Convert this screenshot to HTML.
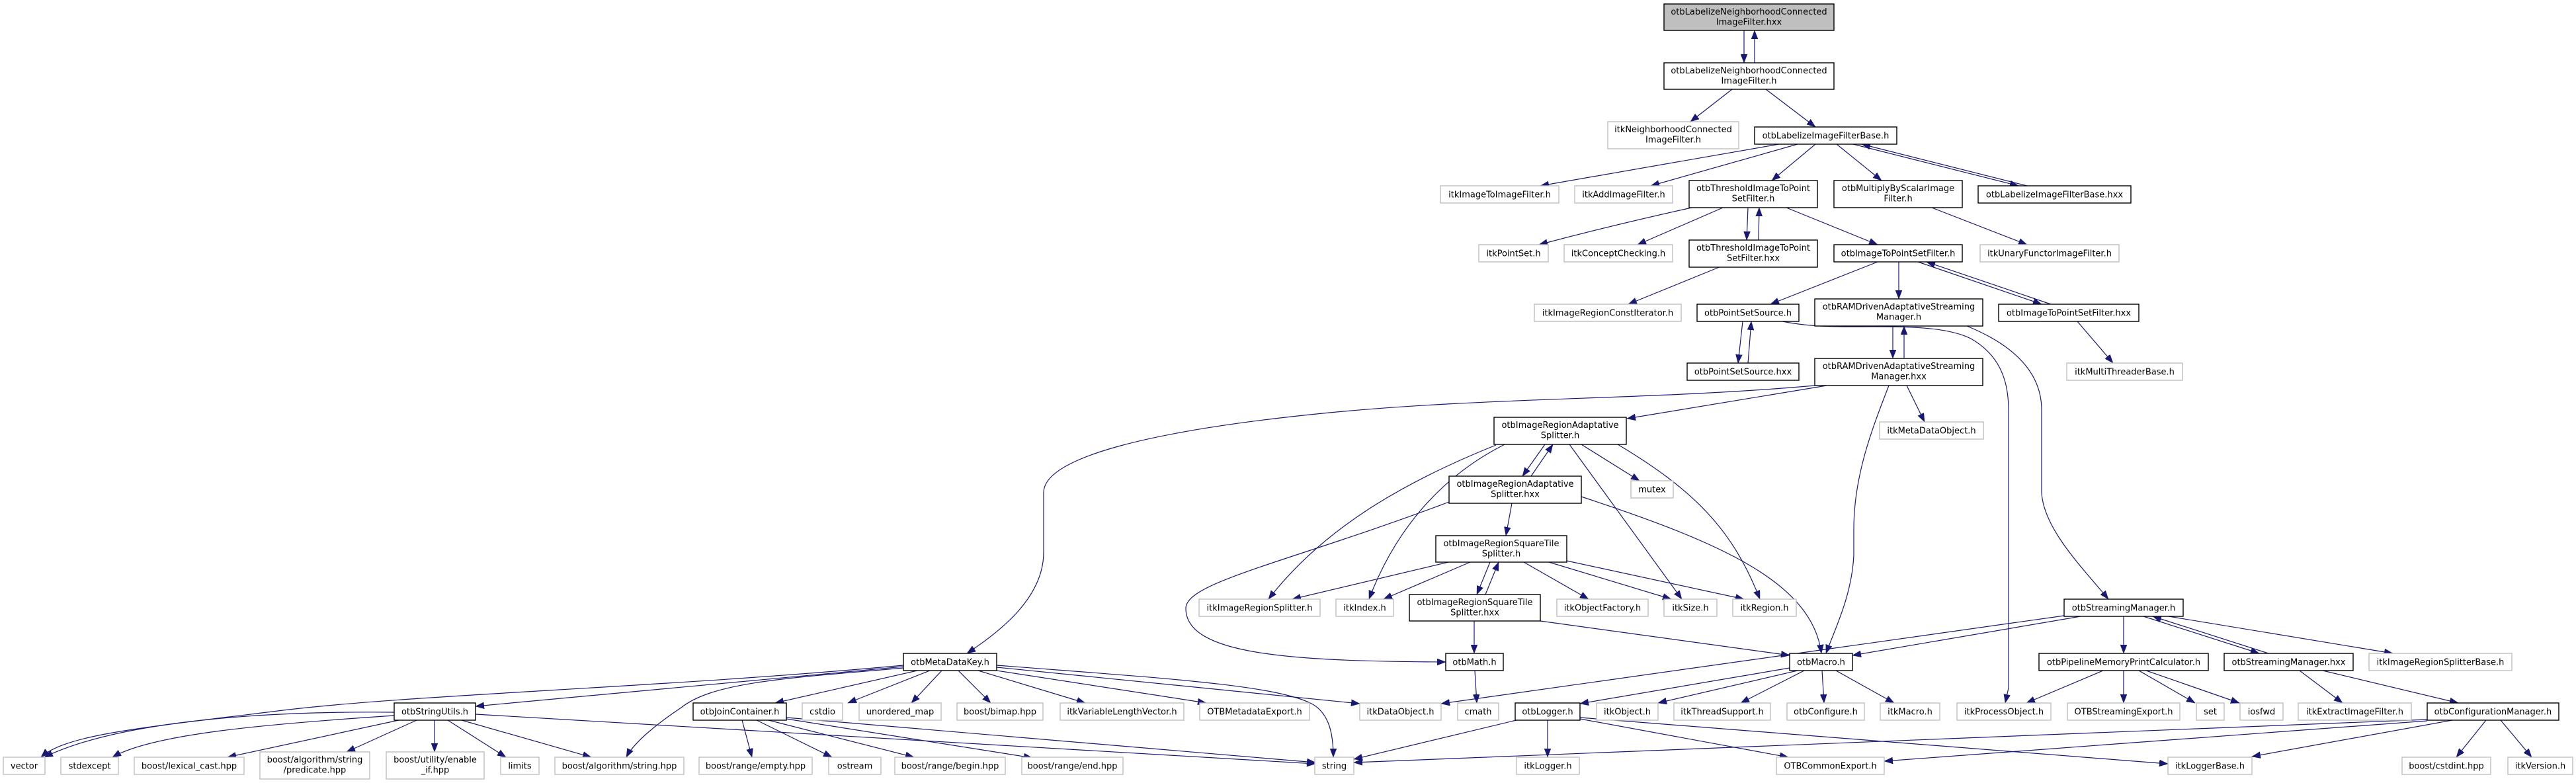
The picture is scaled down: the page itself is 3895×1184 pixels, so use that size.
<!DOCTYPE html>
<html>
<head>
<meta charset="utf-8">
<style>
html,body{margin:0;padding:0;background:#fff;}
body{width:3895px;height:1184px;overflow:hidden;}
svg{display:block;}
text{font-family:"DejaVu Sans","Liberation Sans",sans-serif;font-size:13px;fill:#000;text-anchor:middle;}
.e{fill:none;stroke:#191970;stroke-width:1.2;marker-end:url(#a);}
.b{fill:#fff;stroke:#000;stroke-width:1.4;}
.g{fill:#fff;stroke:#bfbfbf;stroke-width:1.4;}
.f{fill:#bfbfbf;stroke:#000;stroke-width:1.4;}
</style>
</head>
<body>
<svg width="3895" height="1184" viewBox="0 0 3895 1184" xmlns="http://www.w3.org/2000/svg">
<defs>
<marker id="a" markerUnits="userSpaceOnUse" markerWidth="14" markerHeight="11" refX="13" refY="5" orient="auto">
<path d="M0,0L13,5L0,10z" fill="#191970" stroke="#191970" stroke-width="0.5"/>
</marker>
</defs>
<rect width="3895" height="1184" fill="#fff"/>
<!-- edges -->
<path class="e" d="M2637,46 L2637,95"/>
<path class="e" d="M2653,95 L2653,46"/>
<path class="e" d="M2619,135 L2556,184"/>
<path class="e" d="M2670,135 L2745,192"/>
<path class="e" d="M2690,218 L2329,281"/>
<path class="e" d="M2718,218 L2496,281"/>
<path class="e" d="M2745,218 L2679,273"/>
<path class="e" d="M2777,218 L2845,273"/>
<path class="e" d="M2802,218 L3052,281"/>
<path class="e" d="M3065,281 L2815,218"/>
<path class="e" d="M2558,314 Q2440,340 2327,370"/>
<path class="e" d="M2605,314 L2476,370"/>
<path class="e" d="M2643,314 L2641,363"/>
<path class="e" d="M2659,363 L2660,314"/>
<path class="e" d="M2701,314 L2839,370"/>
<path class="e" d="M2921,314 L3065,370"/>
<path class="e" d="M2602,403 L2462,460"/>
<path class="e" d="M2839,396 L2677,460"/>
<path class="e" d="M2871,396 L2871,452"/>
<path class="e" d="M2900,396 L3087,460"/>
<path class="e" d="M3101,460 L2913,396"/>
<path class="e" d="M2635,486 L2628,549"/>
<path class="e" d="M2643,549 L2648,486"/>
<path class="e" d="M2695,486 C2730,493 2760,494 2800,494 C2870,494 2940,492 2980,512 C3020,535 3037,570 3037,620 L3037,1040 L3032,1063"/>
<path class="e" d="M2974,493 C3040,520 3087,560 3087,620 L3087,745 C3090,800 3150,860 3188,906"/>
<path class="e" d="M2862,493 L2862,542"/>
<path class="e" d="M2879,542 L2879,493"/>
<path class="e" d="M2856,583 C2830,650 2803,720 2803,800 L2803,840 C2800,900 2775,950 2761,988"/>
<path class="e" d="M2883,583 L2910,638"/>
<path class="e" d="M2762,583 L2460,633"/>
<path class="e" d="M2744,583 C2500,605 2250,600 2000,625 C1750,650 1578,690 1578,745 L1578,835 C1578,900 1520,950 1462,988"/>
<path class="e" d="M2336,672 L2302,720"/>
<path class="e" d="M2315,720 L2348,672"/>
<path class="e" d="M2262,673 C2120,730 2000,800 1918,906"/>
<path class="e" d="M2275,672 C2180,720 2110,800 2070,906"/>
<path class="e" d="M2391,672 L2479,727"/>
<path class="e" d="M2373,672 L2543,906"/>
<path class="e" d="M2446,672 C2560,740 2620,800 2661,906"/>
<path class="e" d="M2286,761 L2277,810"/>
<path class="e" d="M2191,759 C1950,850 1793,880 1793,920 C1793,990 1950,1000 2186,1001"/>
<path class="e" d="M2391,751 C2600,820 2740,880 2754,988"/>
<path class="e" d="M2190,850 L1954,906"/>
<path class="e" d="M2223,850 L2092,906"/>
<path class="e" d="M2253,850 L2233,899"/>
<path class="e" d="M2246,899 L2266,850"/>
<path class="e" d="M2304,850 L2402,906"/>
<path class="e" d="M2342,850 L2527,906"/>
<path class="e" d="M2369,848 L2637,906"/>
<path class="e" d="M2229,939 L2229,988"/>
<path class="e" d="M2329,939 L2706,991"/>
<path class="e" d="M2230,1014 L2233,1063"/>
<path class="e" d="M2706,1010 L2389,1064"/>
<path class="e" d="M2718,1014 L2507,1063"/>
<path class="e" d="M2728,1014 L2632,1063"/>
<path class="e" d="M2755,1014 L2758,1063"/>
<path class="e" d="M2776,1014 L2864,1063"/>
<path class="e" d="M3121,931 L2179,1064"/>
<path class="e" d="M3146,932 L2801,991"/>
<path class="e" d="M3211,932 L3211,988"/>
<path class="e" d="M3241,932 L3416,988"/>
<path class="e" d="M3430,988 L3255,932"/>
<path class="e" d="M3279,932 L3618,988"/>
<path class="e" d="M3180,1014 L3064,1063"/>
<path class="e" d="M3211,1014 L3211,1063"/>
<path class="e" d="M3234,1014 L3319,1063"/>
<path class="e" d="M3245,1014 L3386,1063"/>
<path class="e" d="M3477,1014 L3542,1063"/>
<path class="e" d="M3512,1014 L3717,1063"/>
<path class="e" d="M3670,1088 L2047,1153"/>
<path class="e" d="M3670,1090 L2849,1151"/>
<path class="e" d="M3708,1089 L3405,1144"/>
<path class="e" d="M3759,1089 L3714,1145"/>
<path class="e" d="M3781,1089 L3828,1145"/>
<path class="e" d="M2293,1089 L2047,1148"/>
<path class="e" d="M2340,1089 L2340,1145"/>
<path class="e" d="M2389,1087 L2704,1145"/>
<path class="e" d="M2389,1085 L3278,1155"/>
<path class="e" d="M1507,1009 L2056,1064"/>
<path class="e" d="M1507,1006 C1750,1025 1930,1035 1985,1065 C2010,1080 2016,1110 2016,1145"/>
<path class="e" d="M1507,1014 L1824,1063"/>
<path class="e" d="M1479,1014 L1641,1063"/>
<path class="e" d="M1449,1014 L1498,1063"/>
<path class="e" d="M1424,1014 L1378,1063"/>
<path class="e" d="M1406,1014 L1282,1063"/>
<path class="e" d="M1387,1014 L1172,1063"/>
<path class="e" d="M1366,1010 C1200,1025 1080,1030 1030,1070 C1000,1090 960,1120 947,1145"/>
<path class="e" d="M1366,1008 L719,1068"/>
<path class="e" d="M1366,1006 C1000,1040 620,1050 420,1075 C220,1100 100,1110 62,1145"/>
<path class="e" d="M596,1077 C400,1075 180,1090 67,1145"/>
<path class="e" d="M596,1082 C400,1095 230,1110 170,1145"/>
<path class="e" d="M603,1089 L344,1145"/>
<path class="e" d="M630,1089 L524,1137"/>
<path class="e" d="M657,1089 L657,1137"/>
<path class="e" d="M677,1089 L765,1145"/>
<path class="e" d="M698,1089 L894,1145"/>
<path class="e" d="M719,1080 L1989,1155"/>
<path class="e" d="M1122,1089 L1137,1145"/>
<path class="e" d="M1144,1089 L1258,1145"/>
<path class="e" d="M1162,1089 L1382,1145"/>
<path class="e" d="M1189,1087 L1561,1146"/>
<path class="e" d="M1189,1085 L1989,1153"/>
<path class="e" d="M3141,486 L3195,549"/>

<!-- nodes -->
<rect class="f" x="2516" y="6" width="257" height="40"/>
<text x="2644.5" y="22">otbLabelizeNeighborhoodConnected</text><text x="2644.5" y="37.5">ImageFilter.hxx</text>
<rect class="b" x="2516" y="95" width="257" height="40"/>
<text x="2644.5" y="111">otbLabelizeNeighborhoodConnected</text><text x="2644.5" y="126.5">ImageFilter.h</text>
<rect class="g" x="2431" y="184" width="198" height="41"/>
<text x="2530" y="200">itkNeighborhoodConnected</text><text x="2530" y="215.5">ImageFilter.h</text>
<rect class="b" x="2653" y="192" width="215" height="26"/>
<text x="2760.5" y="209.5">otbLabelizeImageFilterBase.h</text>
<rect class="g" x="2178" y="281" width="179" height="26"/>
<text x="2267.5" y="298.5">itkImageToImageFilter.h</text>
<rect class="g" x="2381" y="281" width="148" height="26"/>
<text x="2455" y="298.5">itkAddImageFilter.h</text>
<rect class="b" x="2554" y="273" width="194" height="41"/>
<text x="2651" y="289">otbThresholdImageToPoint</text><text x="2651" y="304.5">SetFilter.h</text>
<rect class="b" x="2773" y="273" width="194" height="41"/>
<text x="2870" y="289">otbMultiplyByScalarImage</text><text x="2870" y="304.5">Filter.h</text>
<rect class="b" x="2991" y="281" width="231" height="26"/>
<text x="3106.5" y="298.5">otbLabelizeImageFilterBase.hxx</text>
<rect class="g" x="2236" y="370" width="105" height="26"/>
<text x="2288.5" y="387.5">itkPointSet.h</text>
<rect class="g" x="2365" y="370" width="164" height="26"/>
<text x="2447" y="387.5">itkConceptChecking.h</text>
<rect class="b" x="2554" y="363" width="194" height="41"/>
<text x="2651" y="379">otbThresholdImageToPoint</text><text x="2651" y="394.5">SetFilter.hxx</text>
<rect class="b" x="2773" y="370" width="194" height="26"/>
<text x="2870" y="387.5">otbImageToPointSetFilter.h</text>
<rect class="g" x="2994" y="370" width="210" height="26"/>
<text x="3099" y="387.5">itkUnaryFunctorImageFilter.h</text>
<rect class="g" x="2320" y="460" width="222" height="26"/>
<text x="2431" y="477.5">itkImageRegionConstIterator.h</text>
<rect class="b" x="2566" y="460" width="154" height="26"/>
<text x="2643" y="477.5">otbPointSetSource.h</text>
<rect class="b" x="2744" y="452" width="254" height="41"/>
<text x="2871" y="468">otbRAMDrivenAdaptativeStreaming</text><text x="2871" y="483.5">Manager.h</text>
<rect class="b" x="3022" y="460" width="212" height="26"/>
<text x="3128" y="477.5">otbImageToPointSetFilter.hxx</text>
<rect class="b" x="2551" y="549" width="169" height="26"/>
<text x="2635.5" y="566.5">otbPointSetSource.hxx</text>
<rect class="b" x="2744" y="542" width="254" height="41"/>
<text x="2871" y="558">otbRAMDrivenAdaptativeStreaming</text><text x="2871" y="573.5">Manager.hxx</text>
<rect class="g" x="3125" y="549" width="175" height="26"/>
<text x="3212.5" y="566.5">itkMultiThreaderBase.h</text>
<rect class="g" x="2842" y="638" width="157" height="26"/>
<text x="2920.5" y="655.5">itkMetaDataObject.h</text>
<rect class="b" x="2259" y="631" width="200" height="41"/>
<text x="2359" y="647">otbImageRegionAdaptative</text><text x="2359" y="662.5">Splitter.h</text>
<rect class="b" x="2191" y="720" width="200" height="41"/>
<text x="2291" y="736">otbImageRegionAdaptative</text><text x="2291" y="751.5">Splitter.hxx</text>
<rect class="g" x="2466" y="727" width="64" height="26"/>
<text x="2498" y="744.5">mutex</text>
<rect class="b" x="2171" y="810" width="198" height="40"/>
<text x="2270" y="826">otbImageRegionSquareTile</text><text x="2270" y="841.5">Splitter.h</text>
<rect class="g" x="1813" y="906" width="183" height="26"/>
<text x="1904.5" y="923.5">itkImageRegionSplitter.h</text>
<rect class="g" x="2020" y="906" width="87" height="26"/>
<text x="2063.5" y="923.5">itkIndex.h</text>
<rect class="b" x="2131" y="899" width="198" height="40"/>
<text x="2230" y="915">otbImageRegionSquareTile</text><text x="2230" y="930.5">Splitter.hxx</text>
<rect class="g" x="2354" y="906" width="138" height="26"/>
<text x="2423" y="923.5">itkObjectFactory.h</text>
<rect class="g" x="2516" y="906" width="80" height="26"/>
<text x="2556" y="923.5">itkSize.h</text>
<rect class="g" x="2620" y="906" width="96" height="26"/>
<text x="2668" y="923.5">itkRegion.h</text>
<rect class="b" x="3121" y="906" width="180" height="26"/>
<text x="3211" y="923.5">otbStreamingManager.h</text>
<rect class="b" x="1366" y="988" width="141" height="26"/>
<text x="1436.5" y="1005.5">otbMetaDataKey.h</text>
<rect class="b" x="2186" y="988" width="87" height="26"/>
<text x="2229.5" y="1005.5">otbMath.h</text>
<rect class="b" x="2706" y="988" width="95" height="26"/>
<text x="2753.5" y="1005.5">otbMacro.h</text>
<rect class="b" x="3083" y="988" width="256" height="26"/>
<text x="3211" y="1005.5">otbPipelineMemoryPrintCalculator.h</text>
<rect class="b" x="3363" y="988" width="195" height="26"/>
<text x="3460.5" y="1005.5">otbStreamingManager.hxx</text>
<rect class="g" x="3582" y="988" width="216" height="26"/>
<text x="3690" y="1005.5">itkImageRegionSplitterBase.h</text>

<rect class="b" x="596" y="1063" width="123" height="26"/><text x="657.5" y="1080.5">otbStringUtils.h</text>
<rect class="b" x="1048" y="1063" width="141" height="26"/><text x="1118.5" y="1080.5">otbJoinContainer.h</text>
<rect class="g" x="1213" y="1063" width="61" height="26"/><text x="1243.5" y="1080.5">cstdio</text>
<rect class="g" x="1299" y="1063" width="124" height="26"/><text x="1361" y="1080.5">unordered_map</text>
<rect class="g" x="1447" y="1063" width="130" height="26"/><text x="1512" y="1080.5">boost/bimap.hpp</text>
<rect class="g" x="1603" y="1063" width="187" height="26"/><text x="1696.5" y="1080.5">itkVariableLengthVector.h</text>
<rect class="g" x="1814" y="1063" width="166" height="26"/><text x="1897" y="1080.5">OTBMetadataExport.h</text>
<rect class="g" x="2056" y="1063" width="123" height="26"/><text x="2117.5" y="1080.5">itkDataObject.h</text>
<rect class="g" x="2204" y="1063" width="62" height="26"/><text x="2235" y="1080.5">cmath</text>
<rect class="b" x="2291" y="1063" width="98" height="26"/><text x="2340" y="1080.5">otbLogger.h</text>
<rect class="g" x="2414" y="1063" width="93" height="26"/><text x="2460.5" y="1080.5">itkObject.h</text>
<rect class="g" x="2531" y="1063" width="146" height="26"/><text x="2604" y="1080.5">itkThreadSupport.h</text>
<rect class="g" x="2702" y="1063" width="117" height="26"/><text x="2760.5" y="1080.5">otbConfigure.h</text>
<rect class="g" x="2843" y="1063" width="90" height="26"/><text x="2888" y="1080.5">itkMacro.h</text>
<rect class="g" x="2959" y="1063" width="142" height="26"/><text x="3030" y="1080.5">itkProcessObject.h</text>
<rect class="g" x="3126" y="1063" width="170" height="26"/><text x="3211" y="1080.5">OTBStreamingExport.h</text>
<rect class="g" x="3321" y="1063" width="42" height="26"/><text x="3342" y="1080.5">set</text>
<rect class="g" x="3387" y="1063" width="65" height="26"/><text x="3419.5" y="1080.5">iosfwd</text>
<rect class="g" x="3475" y="1063" width="171" height="26"/><text x="3560.5" y="1080.5">itkExtractImageFilter.h</text>
<rect class="b" x="3670" y="1063" width="199" height="26"/><text x="3769.5" y="1080.5">otbConfigurationManager.h</text>

<rect class="g" x="5" y="1145" width="63" height="26"/><text x="36.5" y="1162.5">vector</text>
<rect class="g" x="92" y="1145" width="87" height="26"/><text x="135.5" y="1162.5">stdexcept</text>
<rect class="g" x="203" y="1145" width="166" height="26"/><text x="286" y="1162.5">boost/lexical_cast.hpp</text>
<rect class="g" x="393" y="1137" width="166" height="41"/><text x="476" y="1153">boost/algorithm/string</text><text x="476" y="1168.5">/predicate.hpp</text>
<rect class="g" x="584" y="1137" width="148" height="41"/><text x="658" y="1153">boost/utility/enable</text><text x="658" y="1168.5">_if.hpp</text>
<rect class="g" x="757" y="1145" width="58" height="26"/><text x="786" y="1162.5">limits</text>
<rect class="g" x="839" y="1145" width="195" height="26"/><text x="936.5" y="1162.5">boost/algorithm/string.hpp</text>
<rect class="g" x="1057" y="1145" width="171" height="26"/><text x="1142.5" y="1162.5">boost/range/empty.hpp</text>
<rect class="g" x="1253" y="1145" width="79" height="26"/><text x="1292.5" y="1162.5">ostream</text>
<rect class="g" x="1353" y="1145" width="167" height="26"/><text x="1436.5" y="1162.5">boost/range/begin.hpp</text>
<rect class="g" x="1545" y="1145" width="153" height="26"/><text x="1621.5" y="1162.5">boost/range/end.hpp</text>
<rect class="g" x="1988" y="1145" width="59" height="26"/><text x="2017.5" y="1162.5">string</text>
<rect class="g" x="2293" y="1145" width="95" height="26"/><text x="2340.5" y="1162.5">itkLogger.h</text>
<rect class="g" x="2686" y="1145" width="163" height="26"/><text x="2767.5" y="1162.5">OTBCommonExport.h</text>
<rect class="g" x="3278" y="1145" width="127" height="26"/><text x="3341.5" y="1162.5">itkLoggerBase.h</text>
<rect class="g" x="3632" y="1145" width="134" height="26"/><text x="3699" y="1162.5">boost/cstdint.hpp</text>
<rect class="g" x="3792" y="1145" width="98" height="26"/><text x="3841" y="1162.5">itkVersion.h</text>
</svg>
</body>
</html>
